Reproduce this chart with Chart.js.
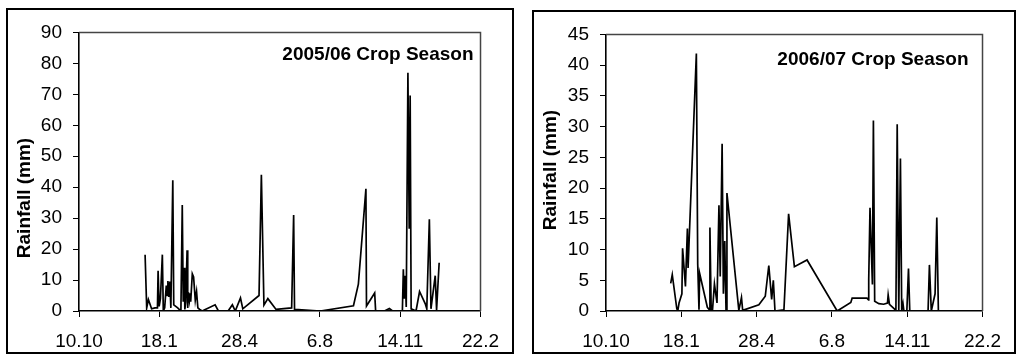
<!DOCTYPE html>
<html>
<head>
<meta charset="utf-8">
<script src="https://cdn.jsdelivr.net/npm/chart.js@4.4.1/dist/chart.umd.min.js"></script>
<style>
  html, body { margin: 0; padding: 0; background: #fff; }
  body { width: 1018px; height: 361px; position: relative; overflow: hidden; }
  .panel { position: absolute; border: 2px solid #000; box-sizing: border-box; }
  .panel canvas { position: absolute; left: 0; top: 0; }
</style>
</head>
<body>
<div class="panel" style="left:6px;top:8px;width:508px;height:346px"><canvas id="c1" width="504" height="342"></canvas></div>
<div class="panel" style="left:532px;top:10px;width:484px;height:344px"><canvas id="c2" width="480" height="340"></canvas></div>
<script>
// x axis: days counted from 10 Oct, one tick every 100 days
const xTicks = [0, 100, 200, 300, 400, 500]
const xLabels = ['10.10', '18.1', '28.4', '6.8', '14.11', '22.2']

// 2005/06 season: day, rainfall (mm)
const days0506 = [82.3, 84.3, 86.4, 90.4, 94.5, 97.7, 98.5, 99.8, 101.4, 103.8, 105, 106.7, 108.7, 109.9, 110.7, 111.9, 113.1, 114.4, 116.8, 118, 122.9, 126.9, 128.6, 129.8, 131, 131.8, 133, 134.6, 135.4, 136.3, 137.5, 138.3, 139.1, 141.1, 142.7, 144.8, 146.4, 148, 150.4, 153.3, 169.5, 173.6, 185.7, 191, 194.6, 201.1, 204, 224.2, 227.1, 230.3, 235.2, 245.4, 264.8, 267.3, 268.4, 300.5, 341.8, 347.9, 357.3, 358, 368.2, 369.4, 380.4, 386.5, 390.5, 402.7, 403.9, 405, 406.3, 407.5, 409.6, 411.2, 412.4, 413.6, 419.7, 424.1, 431.1, 433.1, 436.3, 438.3, 443.6, 445.3, 448.5]
const rain0506 = [18.2, 1, 3.7, 0.7, 1, 1, 13, 1.5, 4, 18.2, 0, 1, 8.2, 5, 9.7, 4.5, 9.5, 1, 42.2, 2, 1, 0, 34.2, 3, 14, 0.5, 3, 19.6, 1, 6, 3.5, 5.7, 3, 12, 11, 3.5, 6.3, 1, 0.5, 0, 2, 0, 0, 2, 0, 4.2, 0.7, 5, 44, 1.9, 4, 0.5, 1, 31, 0.5, 0, 1.7, 8.7, 39.5, 1.6, 5.8, 0, 0, 0.8, 0, 0, 13.5, 4, 11.4, 1.3, 77, 26.6, 69.6, 0.7, 0, 6.3, 2.4, 0.7, 29.6, 0.7, 11.4, 0.3, 15.6]

// 2006/07 season: day, rainfall (mm)
const days0607 = [85.9, 88, 94, 95.3, 97, 100.8, 101.7, 105.5, 108.1, 109, 120, 121.8, 123.5, 124.4, 134.6, 137.2, 138, 139.7, 141.4, 144, 147.4, 150, 151.7, 154.2, 155.9, 157.7, 159.4, 160.6, 176.4, 179.9, 181.5, 203, 211.5, 216.2, 220, 222.2, 224.4, 236.3, 242.5, 250.2, 267, 307, 325.1, 326.9, 346.5, 348.7, 348.9, 350.6, 353.8, 355.1, 356.8, 362.3, 368.7, 373.8, 374.7, 376.4, 381.5, 385, 386.7, 388.8, 391, 392.7, 394.4, 395.6, 399.5, 401.7, 403.4, 427.7, 429.5, 432, 437, 439.3, 441.4]
const rain0607 = [4.5, 5.9, 0.4, 0, 1.3, 2.8, 10.2, 4, 13.4, 7, 41.9, 7.6, 0.2, 6.1, 0.6, 0.2, 13.6, 0.1, 0.1, 4.4, 1.3, 17.2, 5.6, 27.2, 2.8, 11.4, 0.1, 19.2, 0.1, 2.2, 0.1, 1, 2.4, 7.4, 1.9, 5, 0, 0.2, 15.8, 7.2, 8.3, 0, 1.4, 2.1, 2.1, 1.8, 5.2, 16.8, 4.3, 31, 1.6, 1.2, 1.1, 1.3, 2.6, 1.1, 0.5, 0.1, 30.4, 0.1, 24.8, 0.1, 1.2, 0, 0, 6.9, 0, 0, 7.5, 0, 2.8, 15.2, 0]

const FONT = '"Liberation Sans", Arial, sans-serif'

// top/right edge of the plot box, y title and season label
const panelText = {
  id: 'panelText',
  beforeDatasetsDraw(chart, args, opts) {
    const { ctx, chartArea: a } = chart
    ctx.save()
    ctx.strokeStyle = '#444'
    ctx.lineWidth = 1.5
    ctx.beginPath()
    ctx.moveTo(a.left, a.top)
    ctx.lineTo(a.right, a.top)
    ctx.lineTo(a.right, a.bottom)
    ctx.stroke()
    ctx.restore()
  },
  afterDraw(chart, args, opts) {
    const { ctx, chartArea: a } = chart
    ctx.save()
    ctx.fillStyle = '#000'
    ctx.font = 'bold 19px ' + FONT
    ctx.textAlign = 'right'
    ctx.textBaseline = 'middle'
    ctx.fillText(opts.season, a.right - opts.seasonInset, a.top + opts.seasonDown)
    ctx.font = 'bold 19px ' + FONT
    ctx.textAlign = 'center'
    ctx.translate(opts.titleX, opts.titleY)
    ctx.rotate(-Math.PI / 2)
    ctx.fillText('Rainfall (mm)', 0, 0)
    ctx.restore()
  }
}

function makeChart(id, days, rain, yMax, yStep, box, text) {
  const canvas = document.getElementById(id)
  const W = canvas.width, H = canvas.height
  const points = days.map((d, i) => ({ x: d, y: rain[i] }))
  return new Chart(canvas, {
    type: 'line',
    data: {
      datasets: [{
        data: points,
        borderColor: '#000',
        borderWidth: 1.7,
        pointRadius: 0,
        tension: 0,
        fill: false,
      }]
    },
    options: {
      responsive: false,
      animation: false,
      events: [],
      layout: { padding: { left: 0, top: box.top, right: W - box.right, bottom: 0 } },
      plugins: {
        legend: { display: false },
        tooltip: { enabled: false },
        panelText: text,
      },
      scales: {
        x: {
          type: 'linear',
          min: 0,
          max: 500,
          afterBuildTicks: (s) => { s.ticks = xTicks.map((v) => ({ value: v })) },
          afterFit: (s) => { s.height = H - box.bottom },
          ticks: {
            autoSkip: false,
            maxRotation: 0,
            padding: 13,
            color: '#000',
            font: { family: FONT, size: 19 },
            callback: (v) => xLabels[xTicks.indexOf(v)],
          },
          grid: { drawOnChartArea: false, tickLength: 6, color: '#000', lineWidth: 1 },
          border: { color: '#000', width: 1.6 },
        },
        y: {
          min: 0,
          max: yMax,
          afterFit: (s) => { s.width = box.left },
          ticks: {
            stepSize: yStep,
            padding: 11,
            color: '#000',
            font: { family: FONT, size: 19 },
          },
          grid: { drawOnChartArea: false, tickLength: 6, color: '#000', lineWidth: 1 },
          border: { color: '#000', width: 1.6 },
        },
      },
    },
    plugins: [panelText],
  })
}

makeChart('c1', days0506, rain0506, 90, 10,
  { left: 71, right: 482, top: 16, bottom: 301 },
  { season: '2005/06 Crop Season', seasonInset: 7, seasonDown: 22, titleX: 17, titleY: 188 })

makeChart('c2', days0607, rain0607, 45, 5,
  { left: 72, right: 462, top: 18, bottom: 299 },
  { season: '2006/07 Crop Season', seasonInset: 14, seasonDown: 25, titleX: 17, titleY: 158 })
</script>
</body>
</html>
